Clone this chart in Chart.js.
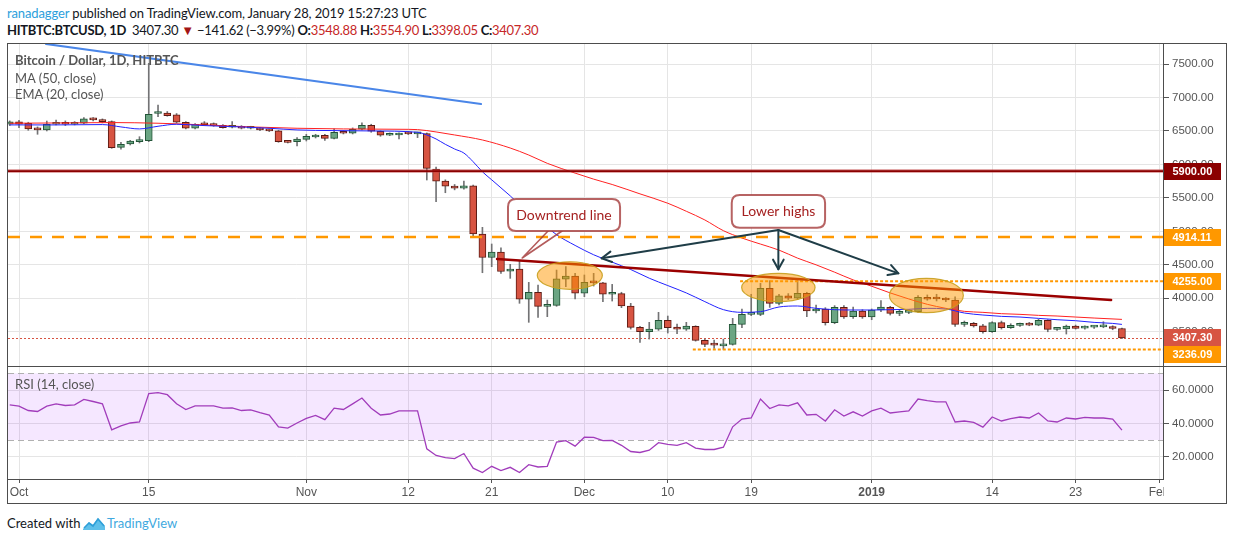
<!DOCTYPE html>
<html><head><meta charset="utf-8">
<script src="https://cdn.jsdelivr.net/npm/chart.js@4.4.1/dist/chart.umd.min.js"></script>
<style>
html,body{margin:0;padding:0;background:#fff;width:1234px;height:541px;overflow:hidden;}
.t{position:absolute;white-space:nowrap;font-family:Lato,"Liberation Sans",sans-serif;}
canvas{position:absolute;}
.r{color:#c62828;}
.ln{position:absolute;background:#4d4d4d;}
</style>
</head><body>
<div class="t" style="left:7px;top:4px;font-size:13px;line-height:18px;letter-spacing:-0.12px;color:#131722"><span style="color:#2ca0dc">ranadagger</span> published on TradingView.com, January 28, 2019 15:27:23 UTC</div>
<div class="t" style="left:7px;top:21px;font-size:13px;line-height:18px;letter-spacing:-0.3px;color:#131722"><b>HITBTC:BTCUSD, 1D</b>&nbsp; 3407.30 <span style="color:#a31515">&#9660;</span> &minus;141.62 (&minus;3.99%) <b>O:</b><span class="r">3548.88</span> <b>H:</b><span class="r">3554.90</span> <b>L:</b><span class="r">3398.05</span> <b>C:</b><span class="r">3407.30</span></div>

<canvas id="c1" width="1218" height="322" style="left:8px;top:44px"></canvas>
<canvas id="c2" width="1218" height="137" style="left:8px;top:367px"></canvas>

<div class="t" style="left:15px;top:51px;font-size:13px;line-height:18px;font-weight:bold;color:#555">Bitcoin / Dollar, 1D, HITBTC</div>
<div class="t" style="left:15px;top:69px;font-size:13px;line-height:18px;color:#555">MA (50, close)</div>
<div class="t" style="left:15px;top:85px;font-size:13px;line-height:18px;color:#555">EMA (20, close)</div>
<div class="t" style="left:15px;top:375px;font-size:13px;line-height:18px;color:#555">RSI (14, close)</div>

<div style="position:absolute;left:7px;top:43px;width:1220px;height:461px;border:1px solid #4d4d4d;box-sizing:border-box;pointer-events:none"></div>
<div class="ln" style="left:7px;top:366px;width:1220px;height:1px"></div>

<div class="t" style="left:7px;top:514px;font-size:13px;line-height:18px;color:#131722">Created with</div>
<svg style="position:absolute;left:82px;top:514px" width="24" height="18" viewBox="0 0 24 18">
<path d="M1 15 L7 8 L11 11 L16 4 L23 12 L23 16 L1 16 Z" fill="#5fc0ea"/>
<path d="M2 14 L7 9 L11 12 L16 5 L22 12" fill="none" stroke="#2f9fd8" stroke-width="1.6"/>
</svg>
<div class="t" style="left:107px;top:514px;font-size:13px;line-height:18px;color:#3fa9e0">TradingView</div>

<script>
// ---- data (day 0 = Oct 1 2018; first candle = Sep 30) ----
const firstDay = -1;
const open = [
6600,6635,6614,6540,6515,6600,6630,6600,6615,6680,
6665,6640,6255,6305,6340,6355,6760,6765,6740,6630,
6540,6598,6595,6585,6555,6570,6540,6545,6520,6500,
6345,6340,6375,6410,6435,6390,6480,6465,6525,6585,
6495,6435,6440,6460,6455,6460,5930,5750,5678,5645,
5680,4960,4610,4690,4407,4435,3985,4090,3880,3895,
4285,4330,4075,4238,4230,4060,4070,3885,3566,3500,
3540,3670,3570,3537,3580,3372,3315,3290,3312,3610,
3760,3760,4150,3925,4035,4000,4075,3810,3840,3636,
3865,3725,3810,3720,3825,3865,3775,3790,3800,4015,
3995,3995,3975,3611,3625,3590,3501,3636,3561,3596,
3625,3600,3670,3536,3541,3586,3555,3570,3572,3575,
3548.88];
const high = [
6650,6660,6630,6560,6648,6663,6650,6640,6700,6700,
6680,6650,6330,6360,6414,7510,6887,6790,6760,6640,
6610,6640,6620,6595,6640,6580,6570,6555,6530,6510,
6360,6400,6450,6450,6450,6530,6500,6545,6620,6600,
6500,6470,6470,6490,6480,6470,5960,5770,5700,5752,
5690,5060,4811,4755,4507,4557,4238,4198,3974,4422,
4472,4373,4348,4373,4240,4208,4090,3925,3580,3641,
3790,3735,3616,3641,3590,3390,3377,3390,3700,3840,
4060,4223,4263,4060,4070,4263,4090,3899,3860,3890,
3890,3870,3830,3840,3964,3880,3830,3830,4040,4050,
4060,4010,4020,3660,3640,3610,3650,3660,3620,3630,
3640,3690,3680,3560,3600,3600,3590,3590,3650,3590,
3554.90];
const low = [
6580,6550,6510,6450,6500,6590,6580,6590,6610,6650,
6620,6240,6226,6290,6320,6340,6713,6720,6620,6530,
6530,6580,6570,6540,6545,6530,6530,6505,6490,6330,
6320,6275,6350,6395,6360,6380,6455,6455,6515,6480,
6420,6430,6380,6445,6400,5767,5443,5577,5620,5630,
4935,4382,4472,4370,4298,3925,3641,3716,3725,3880,
4173,3989,4024,4183,3949,3959,3860,3540,3342,3391,
3520,3481,3471,3520,3360,3277,3252,3237,3300,3561,
3740,3740,3864,3900,3980,3980,3725,3780,3600,3620,
3700,3700,3700,3680,3800,3750,3740,3770,3790,3970,
3960,3950,3580,3580,3570,3480,3490,3540,3550,3580,
3590,3590,3500,3520,3466,3540,3540,3550,3560,3530,
3398.05];
const close = [
6635,6600,6530,6515,6600,6630,6600,6620,6680,6665,
6640,6250,6300,6350,6355,6750,6778,6730,6630,6540,
6600,6592,6580,6550,6570,6540,6550,6515,6500,6340,
6330,6380,6420,6440,6390,6480,6465,6525,6585,6495,
6435,6440,6460,6455,6460,5940,5750,5675,5645,5680,
4960,4610,4690,4400,4437,3985,4090,3880,3900,4290,
4330,4075,4238,4230,4060,4070,3885,3566,3500,3540,
3670,3560,3537,3585,3372,3312,3300,3316,3610,3760,
3775,4150,3925,4035,4000,4075,3810,3840,3636,3865,
3720,3810,3720,3825,3870,3775,3790,3815,4015,3985,
3990,3975,3611,3625,3586,3501,3636,3561,3596,3610,
3600,3670,3536,3541,3586,3551,3575,3572,3575,3549,
3407.30];
const rsi = [
51.1,50.3,47.7,47.1,50.3,51.7,50.7,51.1,54.4,53.1,
51.7,36.1,38.5,40.2,40.8,57.8,58.4,57.2,51.7,48.3,
50.5,50.5,50.5,49.1,49.3,47.7,48.1,46.4,45.0,37.9,
37.1,40.2,43.0,44.8,42.2,49.1,48.3,51.7,55.2,49.1,
45.0,45.6,47.5,47.5,47.5,24.7,20.7,19.4,18.8,21.9,
13.1,10.5,14.2,11.7,13.6,10.5,15.2,13.8,14.2,28.8,
29.6,26.3,31.7,31.6,29.6,29.8,26.8,23.1,22.5,23.9,
28.4,27.4,26.8,28.4,25.1,24.3,24.3,25.7,37.9,42.6,
43.2,54.6,48.9,51.1,50.5,52.3,45.0,45.4,41.4,48.1,
44.4,46.9,44.4,47.5,49.1,46.2,46.9,47.5,54.6,53.6,
52.9,52.9,40.8,41.4,40.6,37.7,43.8,41.4,42.8,43.8,
43.2,46.2,41.4,40.8,43.2,42.6,43.6,43.2,43.2,42.6,
35.9];
const emaDays = [-1,4,9,11,13,15,17,20,24,27,30,34,38,43,44,45,46,47,48,49,50,51,52,53,54,55,56,58,60,62,64,66,68,70,72,74,76,78,80,82,84,86,88,90,92,94,96,98,100,102,104,106,108,110,112,114,116,118,119];
const emaValues = [6590,6590,6595,6560,6530,6570,6600,6580,6560,6540,6515,6505,6500,6480,6440,6380,6300,6230,6170,6040,5890,5770,5650,5530,5400,5280,5180,4950,4790,4650,4540,4430,4300,4190,4080,3950,3830,3790,3800,3870,3885,3850,3830,3825,3825,3830,3835,3850,3840,3780,3750,3730,3720,3700,3680,3665,3640,3625,3610];
const maDays = [-1,5,10,15,20,25,30,35,41,43,45,47,50,53,55,57,60,62,64,67,70,72,74,76,78,80,82,84,86,88,90,92,94,96,98,100,102,104,106,108,110,112,114,116,119];
const maValues = [6615,6620,6625,6615,6590,6560,6540,6530,6525,6520,6485,6440,6365,6245,6140,6016,5870,5780,5700,5560,5420,5300,5170,5010,4900,4810,4720,4600,4500,4390,4275,4180,4080,3990,3910,3850,3805,3790,3770,3760,3745,3735,3720,3705,3685];
const tickDays = [0,14,31,42,51,61,70,79,92,105,114,123];
const tickLabels = ['Oct','15','Nov','12','21','Dec','10','19','2019','14','23','Feb'];
const priceTicks = [3500,4000,4500,5000,5500,6000,6500,7000,7500];
const rsiTicks = [20,40,60];
const levelPrices = [5900, 4914.11, 4255.00, 3236.09];
const lastPrice = 3407.30;

// ---- axis ranges & styles ----
const xMin = -1.187, xMax = 123.43;
const priceMin = 2988.5, priceMax = 7798.8;
const rsiMin = 6.6, rsiMax = 73.8;
const levelStyles = [
  {from:null, color:'#8b0000', width:1.8, dash:[], halo:true, bg:'#8b0000'},
  {from:null, color:'#ff9800', width:2.5, dash:[12,10], bg:'#ff9800'},
  {from:77.8, color:'#ff9800', width:2, dash:[3,2], bg:'#ff9800'},
  {from:72.7, color:'#ff9800', width:2, dash:[3,2], bg:'#ff9800'}
];
const trendLines = [
  {p:[[2.9,7800],[49.85,6902]], color:'#4a86e8', width:2},
  {p:[[51.58,4587],[117.83,3974]], color:'#9a0000', width:2.5}
];
const ellipses = [
  {c:[59.43,4340], r:[3.51,206]},
  {c:[81.93,4161], r:[3.96,212]},
  {c:[97.90,4042], r:[3.99,257]}
];
const callouts = [
  {text:'Downtrend line', box:[52.76,5483,64.85,5005], tail:[[57.08,5005],[54.29,4602],[58.59,5005]]},
  {text:'Lower highs', box:[76.9,5543,86.97,5054], tail:null}
];
const arrows = {from:[81.93,5020], to:[[62.87,4597],[81.93,4433],[94.88,4373]]};

const FONT = '"Liberation Sans", Arial, sans-serif';
const xs = close.map((_, i) => firstDay + i);
const up = close.map((c, i) => c >= open[i]);

function roundRect(ctx, x, y, w, h, r) {
  ctx.beginPath();
  ctx.moveTo(x + r, y); ctx.lineTo(x + w - r, y); ctx.quadraticCurveTo(x + w, y, x + w, y + r);
  ctx.lineTo(x + w, y + h - r); ctx.quadraticCurveTo(x + w, y + h, x + w - r, y + h);
  ctx.lineTo(x + r, y + h); ctx.quadraticCurveTo(x, y + h, x, y + h - r);
  ctx.lineTo(x, y + r); ctx.quadraticCurveTo(x, y, x + r, y); ctx.closePath();
}
function arrow(ctx, x0, y0, x1, y1) {
  const head = 11, spread = 0.5;
  ctx.beginPath(); ctx.moveTo(x0, y0); ctx.lineTo(x1, y1); ctx.stroke();
  const a = Math.atan2(y1 - y0, x1 - x0);
  ctx.beginPath();
  ctx.moveTo(x1 - head * Math.cos(a - spread), y1 - head * Math.sin(a - spread));
  ctx.lineTo(x1, y1);
  ctx.lineTo(x1 - head * Math.cos(a + spread), y1 - head * Math.sin(a + spread));
  ctx.stroke();
}

const drawings = {
  id: 'drawings',
  beforeDatasetsDraw(chart) {
    const {ctx, chartArea: a, scales: {y}} = chart;
    const yy = Math.round(y.getPixelForValue(lastPrice)) + 0.5;
    ctx.save();
    ctx.strokeStyle = '#d75442'; ctx.lineWidth = 1; ctx.setLineDash([2, 2]);
    ctx.beginPath(); ctx.moveTo(a.left, yy); ctx.lineTo(a.right, yy); ctx.stroke();
    ctx.restore();
  },
  afterDatasetsDraw(chart) {
    const {ctx, chartArea: a, scales: {x, y}} = chart;
    const X = v => x.getPixelForValue(v), Y = v => y.getPixelForValue(v);
    ctx.save();
    ctx.beginPath(); ctx.rect(a.left, a.top, a.right - a.left, a.bottom - a.top); ctx.clip();
    levelPrices.forEach((p, i) => {
      const s = levelStyles[i];
      const yy = Y(p);
      const x0 = s.from == null ? a.left : X(s.from);
      if (s.halo) {
        ctx.strokeStyle = 'rgba(190,60,60,0.6)'; ctx.lineWidth = 3.5; ctx.setLineDash([]);
        ctx.beginPath(); ctx.moveTo(x0, yy); ctx.lineTo(a.right, yy); ctx.stroke();
      }
      ctx.strokeStyle = s.color; ctx.lineWidth = s.width; ctx.setLineDash(s.dash);
      ctx.beginPath(); ctx.moveTo(x0, yy); ctx.lineTo(a.right, yy); ctx.stroke();
    });
    ctx.setLineDash([]);
    trendLines.forEach(t => {
      ctx.strokeStyle = t.color; ctx.lineWidth = t.width; ctx.lineCap = 'round';
      ctx.beginPath(); ctx.moveTo(X(t.p[0][0]), Y(t.p[0][1])); ctx.lineTo(X(t.p[1][0]), Y(t.p[1][1])); ctx.stroke();
    });
    ellipses.forEach(e => {
      const cx = X(e.c[0]), cy = Y(e.c[1]);
      const rx = Math.abs(X(e.c[0] + e.r[0]) - cx), ry = Math.abs(Y(e.c[1] + e.r[1]) - cy);
      ctx.beginPath(); ctx.ellipse(cx, cy, rx, ry, 0, 0, Math.PI * 2);
      ctx.fillStyle = 'rgba(255,152,0,0.5)'; ctx.fill();
      ctx.strokeStyle = 'rgba(200,160,30,0.9)'; ctx.lineWidth = 1.2; ctx.stroke();
    });
    ctx.strokeStyle = '#1f3d47'; ctx.lineWidth = 2; ctx.lineCap = 'round'; ctx.lineJoin = 'round';
    arrows.to.forEach(t => arrow(ctx, X(arrows.from[0]), Y(arrows.from[1]), X(t[0]), Y(t[1])));
    callouts.forEach(c => {
      const x0 = X(c.box[0]), y0 = Y(c.box[1]), x1 = X(c.box[2]), y1 = Y(c.box[3]);
      if (c.tail) {
        ctx.strokeStyle = 'rgba(160,50,50,0.8)'; ctx.lineWidth = 1.6;
        ctx.beginPath();
        ctx.moveTo(X(c.tail[0][0]), Y(c.tail[0][1]));
        ctx.lineTo(X(c.tail[1][0]), Y(c.tail[1][1]));
        ctx.lineTo(X(c.tail[2][0]), Y(c.tail[2][1]));
        ctx.stroke();
      }
      roundRect(ctx, x0, y0, x1 - x0, y1 - y0, 8);
      ctx.fillStyle = '#fff'; ctx.fill();
      ctx.strokeStyle = 'rgba(165,60,60,0.8)'; ctx.lineWidth = 2; ctx.stroke();
      ctx.fillStyle = '#a52121'; ctx.font = '14px Lato, "Liberation Sans", sans-serif';
      ctx.textAlign = 'center'; ctx.textBaseline = 'middle';
      ctx.fillText(c.text, (x0 + x1) / 2, (y0 + y1) / 2);
    });
    ctx.restore();
  },
  afterDraw(chart) {
    const {ctx, chartArea: a, scales: {y}} = chart;
    const items = levelPrices.map((p, i) => ({p, bg: levelStyles[i].bg}));
    items.push({p: lastPrice, bg: '#d75442'});
    items.forEach(b => b.yc = y.getPixelForValue(b.p));
    items.sort((m, n) => m.yc - n.yc);
    let prev = -1e9;
    ctx.save();
    ctx.font = 'bold 11px ' + FONT; ctx.textBaseline = 'middle'; ctx.textAlign = 'left';
    items.forEach(b => {
      let top = Math.round(b.yc - 8.5);
      if (top < prev) top = prev;
      ctx.fillStyle = b.bg; ctx.fillRect(a.right + 1, top, 57, 17);
      ctx.fillStyle = '#fff'; ctx.fillText(b.p.toFixed(2), a.right + 9.5, top + 9);
      prev = top + 17;
    });
    ctx.restore();
  }
};

new Chart(document.getElementById('c1'), {
  type: 'bar',
  data: {datasets: [
    {type: 'line', data: emaDays.map((d, i) => ({x: d, y: emaValues[i]})), borderColor: '#2222ff', borderWidth: 1, pointRadius: 0, cubicInterpolationMode: 'monotone', order: 0},
    {type: 'line', data: maDays.map((d, i) => ({x: d, y: maValues[i]})), borderColor: '#ff2222', borderWidth: 1, pointRadius: 0, cubicInterpolationMode: 'monotone', order: 0},
    {data: xs.map((d, i) => ({x: d, y: [open[i], close[i]]})), backgroundColor: up.map(u => u ? '#6ba583' : '#d75442'), borderColor: up.map(u => u ? '#225437' : '#5b1a13'), borderWidth: 1, borderSkipped: false, barThickness: 7, minBarLength: 2, grouped: false, order: 1},
    {data: xs.map((d, i) => ({x: d, y: [low[i], high[i]]})), backgroundColor: '#737375', barThickness: 1, grouped: false, order: 2}
  ]},
  options: {
    responsive: false, animation: false, events: [],
    plugins: {legend: {display: false}, tooltip: {enabled: false}},
    layout: {padding: 0},
    scales: {
      x: {type: 'linear', min: xMin, max: xMax, offset: false,
        afterBuildTicks: s => { s.ticks = tickDays.map(v => ({value: v})); },
        ticks: {display: false}, grid: {color: '#e5e5e5', drawTicks: false, offset: false}, border: {display: false},
        afterFit: s => { s.height = 0; s.paddingLeft = 0; s.paddingRight = 0; }},
      y: {type: 'linear', position: 'right', min: priceMin, max: priceMax,
        afterBuildTicks: s => { s.ticks = priceTicks.map(v => ({value: v})); },
        ticks: {callback: v => Number(v).toFixed(2), color: '#555', font: {size: 11.5, family: FONT}, padding: 3},
        grid: {color: '#e5e5e5', tickLength: 6, tickColor: '#555'}, border: {display: true, color: '#4d4d4d'},
        afterFit: s => { s.width = 63; s.paddingTop = 0; s.paddingBottom = 0; }}
    }
  },
  plugins: [drawings]
});

const rsiPlugin = {
  id: 'rsiband',
  beforeDatasetsDraw(chart) {
    const {ctx, chartArea: a, scales: {y}} = chart;
    const y70 = y.getPixelForValue(70), y30 = y.getPixelForValue(30);
    ctx.save();
    ctx.fillStyle = 'rgba(153,21,255,0.1)';
    ctx.fillRect(a.left, y70, a.right - a.left, y30 - y70);
    ctx.strokeStyle = '#b0b0b0'; ctx.lineWidth = 1; ctx.setLineDash([6, 4]);
    [y70, y30].forEach(v => { const yy = Math.round(v) + 0.5; ctx.beginPath(); ctx.moveTo(a.left, yy); ctx.lineTo(a.right, yy); ctx.stroke(); });
    ctx.restore();
  },
  afterDraw(chart) {
    const {ctx, chartArea: a} = chart;
    ctx.save(); ctx.fillStyle = '#fff';
    ctx.fillRect(a.right + 1, a.bottom + 1, chart.width - a.right, chart.height - a.bottom);
    ctx.restore();
  }
};

new Chart(document.getElementById('c2'), {
  type: 'line',
  data: {datasets: [
    {data: xs.map((d, i) => ({x: d, y: rsi[i]})), borderColor: '#a13cbb', borderWidth: 1.3, pointRadius: 0, tension: 0}
  ]},
  options: {
    responsive: false, animation: false, events: [],
    plugins: {legend: {display: false}, tooltip: {enabled: false}},
    layout: {padding: 0},
    scales: {
      x: {type: 'linear', min: xMin, max: xMax, offset: false,
        afterBuildTicks: s => { s.ticks = tickDays.map(v => ({value: v})); },
        ticks: {callback: v => tickLabels[tickDays.indexOf(v)], autoSkip: false, maxRotation: 0, color: '#555', padding: 2,
          font: c => ({size: 12, family: FONT, weight: (c.tick && c.tick.value === 92) ? 'bold' : 'normal'})},
        grid: {color: '#e5e5e5', tickLength: 4, tickColor: '#555'}, border: {display: true, color: '#4d4d4d'},
        afterFit: s => { s.height = 25; s.paddingLeft = 0; s.paddingRight = 0; }},
      y: {type: 'linear', position: 'right', min: rsiMin, max: rsiMax,
        afterBuildTicks: s => { s.ticks = rsiTicks.map(v => ({value: v})); },
        ticks: {callback: v => Number(v).toFixed(4), color: '#555', font: {size: 11.5, family: FONT}, padding: 3},
        grid: {color: '#e5e5e5', tickLength: 6, tickColor: '#555'}, border: {display: true, color: '#4d4d4d'},
        afterFit: s => { s.width = 63; s.paddingTop = 0; s.paddingBottom = 0; }}
    }
  },
  plugins: [rsiPlugin]
});
</script>
</body></html>
